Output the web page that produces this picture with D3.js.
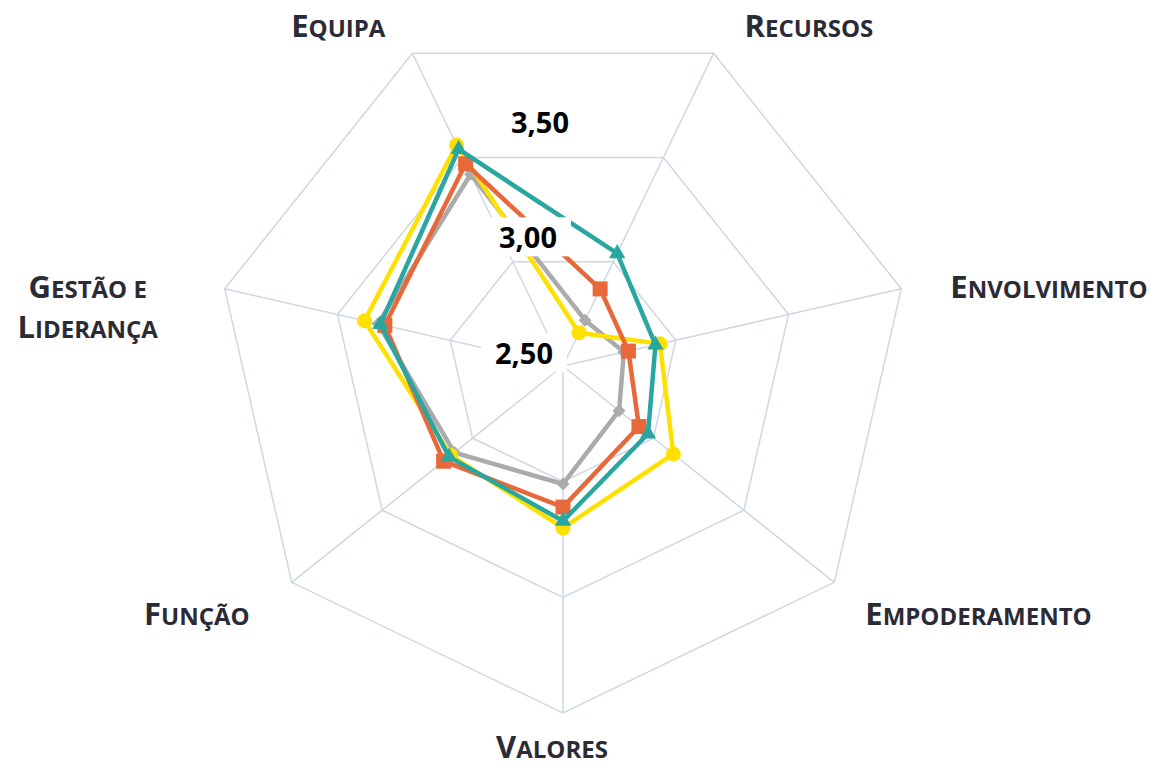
<!DOCTYPE html>
<html>
<head>
<meta charset="utf-8">
<script src="https://cdn.jsdelivr.net/npm/d3@7"></script>
<style>
  body { margin: 0; background: #fff; }
  svg { display: block; }
</style>
</head>
<body>
<div class="graph"></div>
<script>
// categories go clockwise starting at the top-left spoke
var categories = ["Equipa", "Recursos", "Envolvimento", "Empoderamento", "Valores", "Função", "Gestão e Liderança"];
var tickValues = [2.5, 3.0, 3.5, 4.0];
var tickLabels = ["2,50", "3,00", "3,50"];

var serieCinza   = [3.42, 2.72, 2.77, 2.81, 3.01, 3.10, 3.32];
var serieAmarela = [3.56, 2.66, 2.93, 3.11, 3.20, 3.12, 3.38];
var serieLaranja = [3.47, 2.87, 2.79, 2.92, 3.11, 3.16, 3.29];
var serieVerde   = [3.54, 3.04, 2.91, 2.97, 3.17, 3.13, 3.31];

var width = 1158, height = 768;
var cx = 563, cy = 366, R = 347;

var svg = d3.select(".graph").append("svg").attr("width", width).attr("height", height);

var r = d3.scaleLinear().domain([2.5, 4.0]).range([0, R]);
var n = categories.length;
var angle = d3.scaleLinear().domain([0, n]).range([-Math.PI / n, 2 * Math.PI - Math.PI / n]);

function pt(i, v) {
  var a = angle(i);
  return [cx + r(v) * Math.sin(a), cy - r(v) * Math.cos(a)];
}

var g = svg.append("g");

// grid rings
tickValues.slice(1).forEach(function (t) {
  var ring = d3.range(n).map(function (i) { return pt(i, t); });
  g.append("path")
    .attr("d", d3.line()(ring) + "Z")
    .style("fill", "none").style("stroke", "#cfd7e5").style("stroke-width", 1.5);
});
// spokes
d3.range(n).forEach(function (i) {
  var p = pt(i, 4.0);
  g.append("line").attr("x1", cx).attr("y1", cy).attr("x2", p[0]).attr("y2", p[1])
    .style("stroke", "#cfd7e5").style("stroke-width", 1.5);
});

// series
var series = [
  { vals: serieCinza,   color: "#ababab", sym: "diamond" },
  { vals: serieAmarela, color: "#ffe000", sym: "circle" },
  { vals: serieLaranja, color: "#e8683a", sym: "square" },
  { vals: serieVerde,   color: "#2aa6a0", sym: "triangle" }
];

series.forEach(function (s) {
  var pts = s.vals.map(function (v, i) { return pt(i, v); });
  g.append("path").attr("d", d3.line()(pts) + "Z")
    .style("fill", "none").style("stroke", s.color).style("stroke-width", 4.5)
    .style("stroke-linejoin", "round");
  pts.forEach(function (p) {
    var m;
    if (s.sym == "circle") {
      m = g.append("circle").attr("cx", p[0]).attr("cy", p[1]).attr("r", 7.5);
    } else if (s.sym == "square") {
      m = g.append("rect").attr("x", p[0] - 7.5).attr("y", p[1] - 7.5).attr("width", 15).attr("height", 15);
    } else if (s.sym == "diamond") {
      m = g.append("path").attr("d", d3.symbol().type(d3.symbolSquare).size(85)())
        .attr("transform", "translate(" + p[0] + "," + p[1] + ") rotate(45)");
    } else {
      m = g.append("path").attr("d", d3.symbol().type(d3.symbolTriangle).size(115)())
        .attr("transform", "translate(" + p[0] + "," + p[1] + ")");
    }
    m.style("fill", s.color);
  });
});

// value axis labels with white boxes, drawn over the series
var tickDx = [-10, -6, 6];
tickLabels.forEach(function (t, i) {
  var y = cy - r(tickValues[i]);
  var txt = svg.append("text").attr("x", cx + tickDx[i]).attr("y", y - 2)
    .attr("text-anchor", "end")
    .style("font-family", "'Open Sans', sans-serif").style("font-weight", "bold")
    .style("font-size", "29px").style("fill", "#000").text(t);
  var bb = txt.node().getBBox();
  svg.insert("rect", function () { return txt.node(); })
    .attr("x", bb.x - 14).attr("y", bb.y).attr("width", bb.width + 28).attr("height", bb.height)
    .style("fill", "#fff");
});

// category labels in small caps
var labelLayout = [
  { dx: -27, dy: -16, anchor: "end" },
  { dx: 31, dy: -16, anchor: "start" },
  { dx: 49, dy: 9, anchor: "start" },
  { dx: 31, dy: 43, anchor: "start" },
  { dx: -11, dy: 45, anchor: "middle" },
  { dx: -42, dy: 43, anchor: "end" },
  { dx: -137, dy: 9, anchor: "middle" }
];

function smallCaps(textSel, str) {
  var runs = str.match(/[A-ZÀ-Ý]+|[^A-ZÀ-Ý]+/g);
  runs.forEach(function (run) {
    var big = run === run.toUpperCase() && run !== run.toLowerCase();
    textSel.append("tspan").style("font-size", big ? "31px" : "24px").text(run.toUpperCase());
  });
}

categories.forEach(function (c, i) {
  var p = pt(i, 4.0), L = labelLayout[i];
  var lines = c === "Gestão e Liderança" ? ["Gestão e", "Liderança"] : [c];
  lines.forEach(function (line, k) {
    var t = svg.append("text").attr("x", p[0] + L.dx).attr("y", p[1] + L.dy + k * 40)
      .attr("text-anchor", L.anchor)
      .style("font-family", "'Open Sans', sans-serif").style("font-weight", "bold")
      .style("fill", "#2b2b36");
    smallCaps(t, line);
  });
});
</script>
</body>
</html>
